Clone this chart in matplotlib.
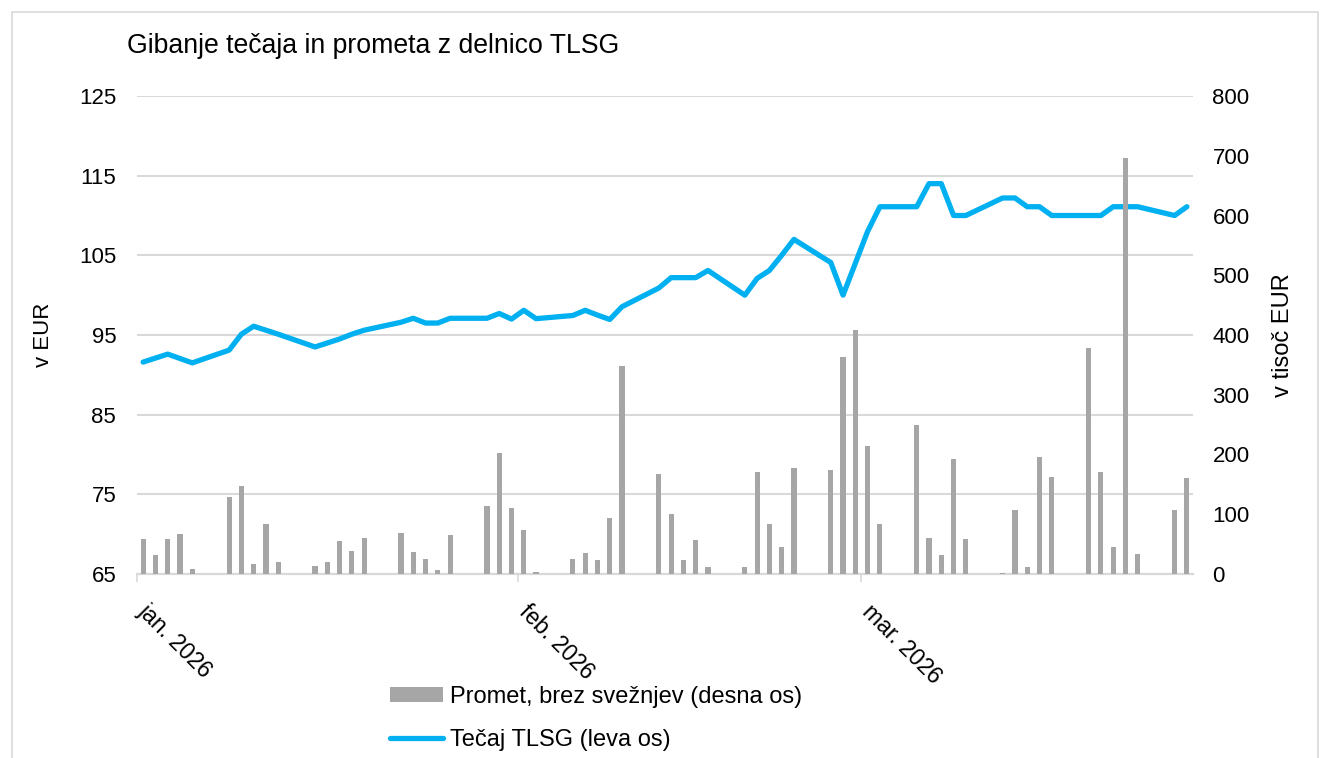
import pandas as pd
import matplotlib.pyplot as plt
from matplotlib.patches import Rectangle

plt.rcParams['font.family'] = ['Liberation Sans', 'DejaVu Sans']

# trading days (date axis, Excel style: value sits in the middle of its day)
trade_dates = [
    '2026-01-01', '2026-01-02', '2026-01-03', '2026-01-04', '2026-01-05',
    '2026-01-08', '2026-01-09', '2026-01-10', '2026-01-11', '2026-01-12',
    '2026-01-15', '2026-01-16', '2026-01-17', '2026-01-18', '2026-01-19',
    '2026-01-22', '2026-01-23', '2026-01-24', '2026-01-25', '2026-01-26',
    '2026-01-29', '2026-01-30', '2026-01-31', '2026-02-01', '2026-02-02',
    '2026-02-05', '2026-02-06', '2026-02-07', '2026-02-08', '2026-02-09',
    '2026-02-12', '2026-02-13', '2026-02-14', '2026-02-15', '2026-02-16',
    '2026-02-19', '2026-02-20', '2026-02-21', '2026-02-22', '2026-02-23',
    '2026-02-26', '2026-02-27', '2026-02-28', '2026-03-01', '2026-03-02',
    '2026-03-05', '2026-03-06', '2026-03-07', '2026-03-08', '2026-03-09',
    '2026-03-12', '2026-03-13', '2026-03-14', '2026-03-15', '2026-03-16',
    '2026-03-19', '2026-03-20', '2026-03-21', '2026-03-22', '2026-03-23',
    '2026-03-26', '2026-03-27',
]
# Tečaj TLSG, EUR (left axis)
price = [
    91.6, 92.1, 92.6, 92.05, 91.5,
    93.1, 95.1, 96.1, 95.6, 95.1,
    93.5, 94.0, 94.5, 95.1, 95.6,
    96.6, 97.1, 96.5, 96.5, 97.1,
    97.1, 97.7, 97.0, 98.1, 97.05,
    97.45, 98.1, 97.5, 96.95, 98.55,
    100.9, 102.2, 102.2, 102.2, 103.1,
    100.0, 102.1, 103.1, 105.0, 107.0,
    104.1, 100.0, 104.0, 108.0, 111.1,
    111.1, 114.0, 114.0, 110.0, 110.0,
    112.2, 112.2, 111.1, 111.1, 110.0,
    110.0, 110.0, 111.1, 111.1, 111.1,
    110.0, 111.1,
]
# Promet brez svežnjev, tisoč EUR (right axis)
volume = [
    58, 31, 58, 67, 9,
    129, 148, 17, 83, 20,
    13, 20, 55, 39, 61,
    68, 36, 25, 7, 66,
    113, 203, 110, 74, 3,
    25, 35, 23, 93, 348,
    168, 100, 23, 57, 12,
    12, 171, 83, 46, 177,
    174, 363, 409, 215, 84,
    249, 60, 32, 193, 58,
    1, 107, 11, 196, 163,
    379, 170, 45, 696, 33,
    107, 161,
]
tick_dates = ['2026-01-01', '2026-02-01', '2026-03-01']
tick_labels = ['jan. 2026', 'feb. 2026', 'mar. 2026']

x = pd.to_datetime(trade_dates) + pd.Timedelta(hours=12)

W, H = 1324, 758
fig = plt.figure(figsize=(W / 100, H / 100), dpi=100)
fig.patches.append(Rectangle((12 / W, -0.05), (1318 - 12) / W, 1.05 - 12 / H,
                             transform=fig.transFigure, fill=False,
                             edgecolor='#D9D9D9', linewidth=1.2))

ax = fig.add_axes([137 / W, 1 - 574 / H, (1193 - 137) / W, (574 - 96) / H])
ax2 = ax.twinx()

line, = ax.plot(x, price, color='#00B0F0', linewidth=3.8, solid_joinstyle='round',
                solid_capstyle='round', zorder=3)
bars = ax2.bar(x, volume, width=0.42, color='#A6A6A6', zorder=3)

ax.set_ylim(65, 125)
ax.set_yticks(range(65, 126, 10))
ax2.set_ylim(0, 800)
ax2.set_yticks(range(0, 801, 100))
ax.set_xlim(pd.Timestamp('2026-01-01'), pd.Timestamp('2026-03-28'))
ax.set_xticks(pd.to_datetime(tick_dates))
ax.set_xticklabels(tick_labels, rotation=-45, ha='left', va='baseline',
                   rotation_mode='anchor', fontsize=16.5)

ax.grid(axis='y', color='#D9D9D9', linewidth=1.5)
ax.set_axisbelow(True)
for a in (ax, ax2):
    for s in ('top', 'left', 'right'):
        a.spines[s].set_visible(False)
    a.spines['bottom'].set_color('#D9D9D9')
    a.spines['bottom'].set_linewidth(1.5)
ax.tick_params(axis='y', length=0, labelsize=16, pad=15)
ax2.tick_params(axis='y', length=0, labelsize=16, pad=14)
ax.tick_params(axis='x', length=6, color='#D9D9D9', width=1.2, pad=22)

ax.set_ylabel('v EUR', fontsize=16, labelpad=18)
ax2.set_ylabel('v tisoč EUR', fontsize=17, labelpad=16)

fig.text(127 / W, 1 - 46 / H, 'Gibanje tečaja in prometa z delnico TLSG',
         fontsize=19.2, va='center', ha='left')

fig.legend([bars, line], ['Promet, brez svežnjev (desna os)', 'Tečaj TLSG (leva os)'],
           loc='upper left', bbox_to_anchor=(390 / W, 1 - 686 / H), frameon=False,
           fontsize=17, borderpad=0, borderaxespad=0, handlelength=2.25,
           handletextpad=0.3, labelspacing=0.9, handleheight=0.6)

fig.savefig('out.png', dpi=100)
